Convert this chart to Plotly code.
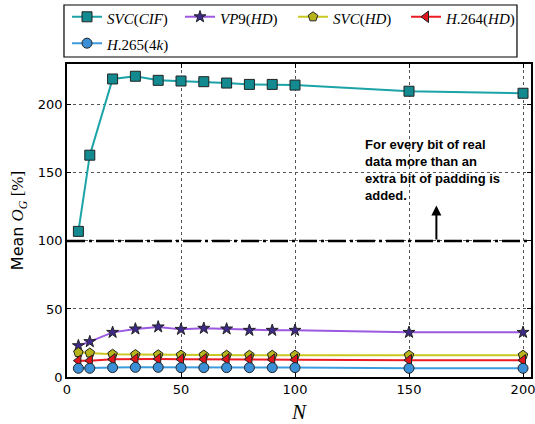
import plotly.graph_objects as go

N = [5, 10, 20, 30, 40, 50, 60, 70, 80, 90, 100, 150, 200]
svc_cif = [107, 163, 219, 221, 218, 217.5, 217, 216, 215, 215, 214.5, 210, 208.5]
vp9_hd = [23, 26, 32.8, 35.3, 36.8, 35, 35.8, 35.3, 34.3, 34.3, 34.3, 32.8, 32.8]
svc_hd = [18, 17.6, 16.7, 16.5, 16.3, 16.1, 16.1, 16, 16, 16, 16, 16, 16]
h264_hd = [12, 12, 13, 13.2, 13.2, 13, 13, 13, 13, 12.8, 12.7, 12.4, 12.3]
h265_4k = [6.4, 6.4, 6.9, 7.1, 7.1, 6.9, 6.9, 6.9, 6.9, 6.9, 6.9, 6.4, 6.4]

names = ["<i>SVC</i>(<i>CIF</i>)", "<i>VP</i>9(<i>HD</i>)", "<i>SVC</i>(<i>HD</i>)",
         "<i>H</i>.264(<i>HD</i>)", "<i>H</i>.265(4<i>k</i>)"]
threshold = 100
note = "<b>For every bit of real<br>data more than an<br>extra bit of padding is<br>added.</b>"

series = [
    (svc_cif, names[0], "#1ba3a8", "square", "#138a8f", 10),
    (vp9_hd, names[1], "#9b59e0", "star", "#3f2a8c", 9),
    (svc_hd, names[2], "#c9c821", "pentagon", "#b8b51c", 10),
    (h264_hd, names[3], "#ec1c24", "triangle-left", "#e0141c", 10),
    (h265_4k, names[4], "#3c9bde", "circle", "#3a8fd6", 10),
]

fig = go.Figure()
for ys, nm, lc, sym, mc, ms in series:
    fig.add_trace(go.Scatter(
        x=N, y=ys, name='<span style="font-size:15px">' + nm + '</span>', mode="lines+markers",
        line=dict(color=lc, width=2),
        marker=dict(symbol=sym, size=ms, color=mc, line=dict(color="#222", width=1)),
    ))

fig.add_shape(type="line", xref="paper", x0=0, x1=1, yref="y", y0=threshold, y1=threshold,
              line=dict(color="black", width=2.5, dash="18px,4px,3px,4px"))

# legend frame
fig.add_shape(type="rect", xref="paper", yref="paper", x0=-0.0065, x1=0.9698, y0=1.0224, y1=1.1885,
              line=dict(color="black", width=1.2), fillcolor="rgba(0,0,0,0)", layer="above")

fig.add_annotation(x=130, y=178, xref="x", yref="y", text=note, showarrow=False,
                   xanchor="left", yanchor="top", align="left",
                   font=dict(family="Liberation Sans", size=13, color="black"))
fig.add_annotation(x=162, y=126, ax=162, ay=threshold, xref="x", yref="y",
                   axref="x", ayref="y", text="", showarrow=True,
                   arrowhead=2, arrowsize=1, arrowwidth=2, arrowcolor="black")

axis_common = dict(showline=True, linecolor="black", linewidth=1.5, mirror="allticks",
                   ticks="inside", ticklen=4, tickcolor="black",
                   showgrid=True, gridcolor="#555", griddash="dot", gridwidth=1,
                   zeroline=False, ticklabeloverflow="allow",
                   tickfont=dict(family="DejaVu Sans", size=13, color="black"))

fig.update_xaxes(range=[0, 203.5], tickvals=[0, 50, 100, 150, 200],
                 title=dict(text="<i>N</i>", font=dict(family="Liberation Serif", size=21, color="black"), standoff=8),
                 **axis_common)
fig.update_yaxes(range=[0, 230], tickvals=[0, 50, 100, 150, 200],
                 title=dict(text="Mean <span style='font-family:Liberation Serif;font-size:17px'><i>O</i><sub><i>G</i></sub> [%]</span>",
                            font=dict(family="DejaVu Sans", size=16, color="black"), standoff=10),
                 **axis_common)

fig.update_layout(
    width=535, height=424,
    margin=dict(l=67, r=4, t=64, b=47, autoexpand=False),
    plot_bgcolor="white", paper_bgcolor="white",
    legend=dict(orientation="h", x=0.0, y=1.209, xanchor="left", yanchor="top",
                borderwidth=0, bgcolor="rgba(0,0,0,0)",
                entrywidth=68, font=dict(family="Liberation Serif", size=18, color="black")),
)

fig.write_html("out.html", config={"displayModeBar": False},
               post_script="document.body.style.margin='0';")
